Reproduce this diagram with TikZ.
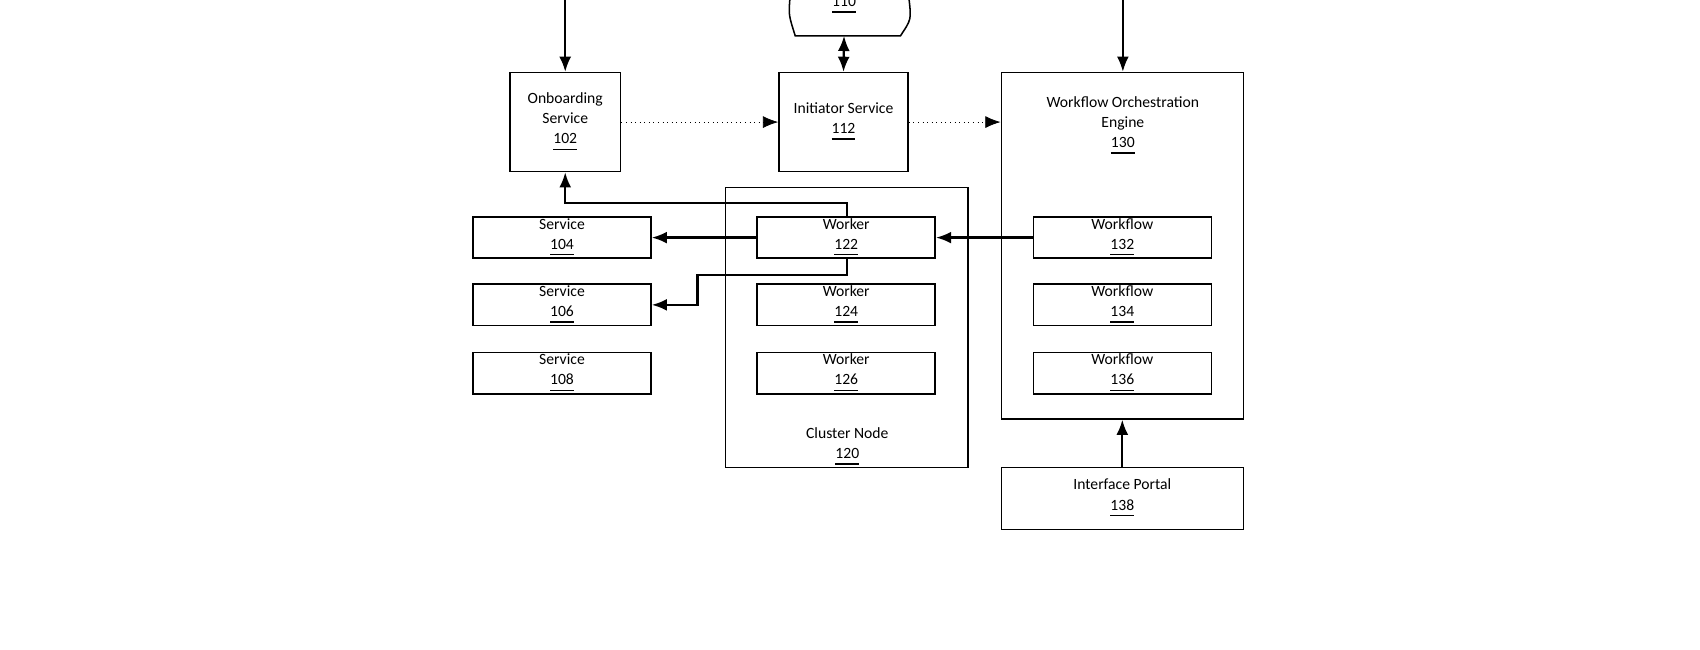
\documentclass[tikz,border=0pt]{standalone}
\usepackage{fontspec}
\setmainfont{Carlito}
\usetikzlibrary{arrows.meta}
\tikzset{
	lbl/.style={inner sep=0pt, align=center, font=\fontsize{4.1}{5.3}\selectfont},
	box/.style={lbl, draw, thin},
	row/.style={box, minimum width=1.64cm, minimum height=0.38cm},
	arr/.style={semithick, -{Latex[length=1.4mm, width=1.1mm]}},
	darr/.style={very thin, densely dotted, -{Latex[length=1.4mm, width=1.1mm]}}
}
\newcommand{\num}[1]{\underline{#1}}
\begin{document}
\begin{tikzpicture}[x=0.01cm, y=-0.01cm]
	\useasboundingbox (0,0) rectangle (1567,599);
	% boxes
	\node[box, minimum width=1.02cm, minimum height=0.91cm] (onb) at (521,112.5) {Onboarding\\Service\\\num{102}};
	\node[box, minimum width=1.19cm, minimum height=0.91cm] (ini) at (777.5,112.5) {Initiator Service\\\num{112}};
	\node[box, minimum width=2.23cm, minimum height=3.19cm] (woe) at (1034.5,226.5) {};
	\node[lbl] (woet) at (1035,116) {Workflow Orchestration\\Engine\\\num{130}};
	\node[box, minimum width=2.23cm, minimum height=2.58cm] (cl) at (780.5,302) {};
	\node[lbl] (clt) at (781,412) {Cluster Node\\\num{120}};
	\node[box, minimum width=2.23cm, minimum height=0.57cm] (ip) at (1034.5,459.5) {Interface Portal\\\num{138}};
	% rows
	\foreach \y/\a/\b/\c in {219/104/122/132, 281/106/124/134, 344/108/126/136} {
		\node[row] (s\a) at (518,\y) {Service\\\num{\a}};
		\node[row] (w\b) at (780,\y) {Worker\\\num{\b}};
		\node[row] (f\c) at (1034.5,\y) {Workflow\\\num{\c}};
	}
	% data store
	\coordinate (dbl) at (728,0);
	\coordinate (dbr) at (838,0);
	\coordinate (db) at (778,33);
	\draw[thin] (dbl) .. controls (727,14) .. (733,33) -- (830,33) .. controls (840,18) .. (dbr);
	\node[lbl] (dbt) at (778,5) {\num{110}};
	% connectors
	\coordinate (inl) at (521,0);
	\coordinate (inr) at (1035,0);
	\draw[arr] (inl) -- (onb.north);
	\draw[arr] (inr) -- (woe.north -| inr);
	\draw[semithick, {Latex[length=1.4mm, width=1.1mm]}-{Latex[length=1.4mm, width=1.1mm]}] (db) -- (ini.north);
	\draw[darr] (onb.east) -- (ini.west);
	\draw[darr] (ini.east) -- (ini.east -| woe.west);
	\draw[arr] ([xshift=0.01cm]w122.north) |- ++(0,-12) -| (onb.south);
	\draw[arr] (w122.west) -- (s104.east);
	\draw[arr] (f132.west) -- (w122.east);
	\draw[arr] ([xshift=0.01cm]w122.south) -- ++(0,15) -| (643,281) -- (s106.east);
	\draw[arr] (ip.north) -- (woe.south);
\end{tikzpicture}
\end{document}
